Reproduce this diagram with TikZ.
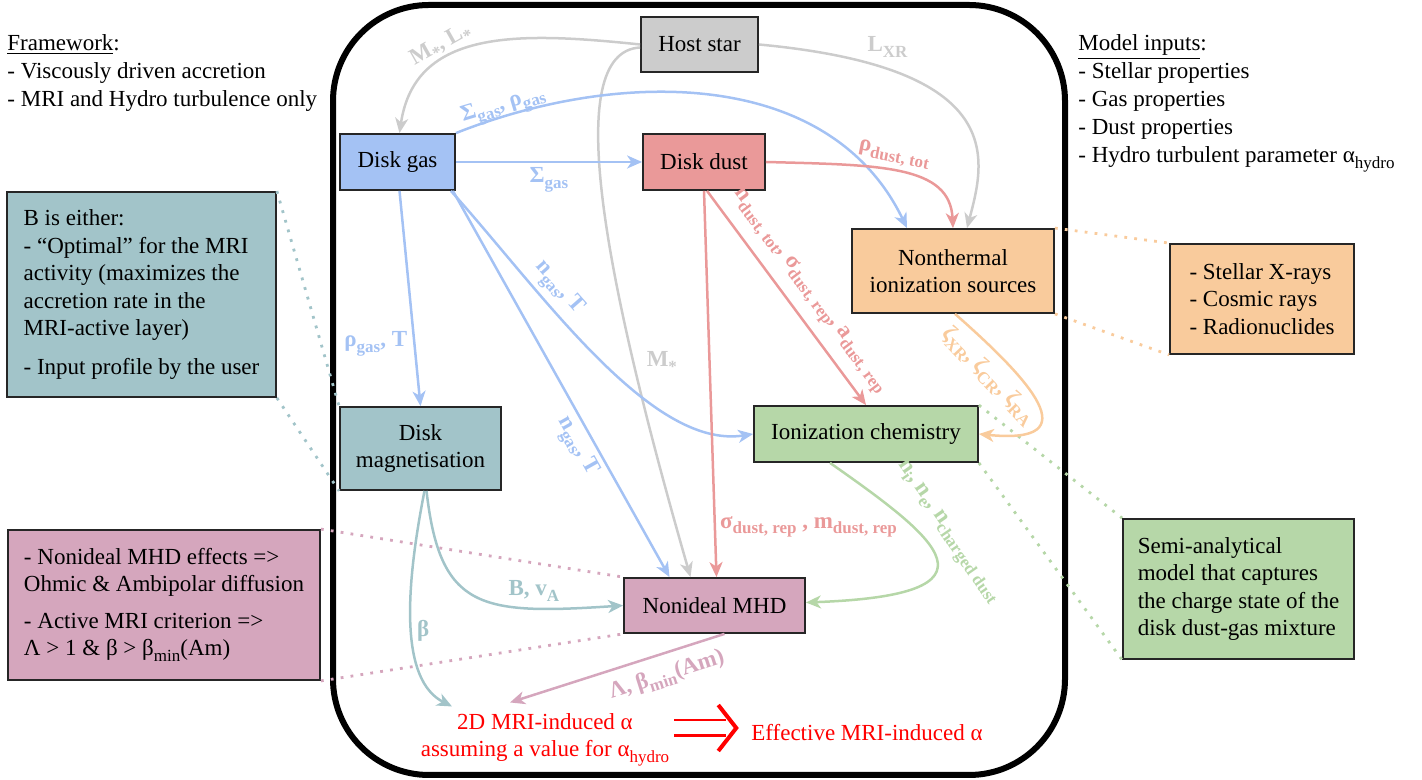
\documentclass[tikz,border=0pt]{standalone}
\usepackage{fontspec}
\setmainfont{Liberation Serif}
\usetikzlibrary{arrows.meta, calc}
\definecolor{stargray}{HTML}{CCCCCC}
\definecolor{gasblue}{HTML}{A4C2F4}
\definecolor{dustred}{HTML}{EA9999}
\definecolor{srcorange}{HTML}{F9CB9C}
\definecolor{chemgreen}{HTML}{B6D7A8}
\definecolor{magteal}{HTML}{A2C4C9}
\definecolor{mhdpink}{HTML}{D5A6BD}
\newcommand{\lo}[1]{\raisebox{-0.55ex}{\fontsize{8.5}{10}\selectfont #1}}

\begin{document}
\begin{tikzpicture}[x=0.5pt, y=0.5pt,
  every node/.style={font=\fontsize{11.5}{13.75}\selectfont},
  box/.style={draw=black!85, line width=0.9pt, inner sep=3pt, align=center},
  flow/.style={line width=1.25pt, -{Stealth[length=7.5pt, width=6.5pt, inset=2.2pt]}},
  lbl/.style={font=\fontsize{11.5}{13.75}\selectfont\bfseries, inner sep=2pt},
  notelink/.style={line width=1.4pt, dash pattern=on 1.4pt off 3.6pt}]
\useasboundingbox (0,0) rectangle (1422,780);
% Model frame
\draw[line width=3pt, rounded corners=48pt] (333,5) rectangle (1065,775);
% Blocks
\node[box, fill=stargray, minimum width=58.5pt, minimum height=27.5pt] (star) at (699.5,735.5) {Host star};
\node[box, fill=gasblue, minimum width=57.5pt, minimum height=28pt] (gas) at (397.5,618) {Disk gas};
\node[box, fill=dustred, minimum width=61pt, minimum height=28pt] (dust) at (704,618) {Disk dust};
\node[box, fill=srcorange, minimum width=101pt, minimum height=42pt] (nonth) at (953,509) {Nonthermal\\ionization sources};
\node[box, fill=chemgreen, minimum width=112pt, minimum height=28pt] (ionch) at (866,346) {Ionization chemistry};
\node[box, fill=magteal, minimum width=80.5pt, minimum height=41.5pt] (mag) at (420.5,331.5) {Disk\\magnetisation};
\node[box, fill=mhdpink, minimum width=90.5pt, minimum height=27.5pt] (mhd) at (714.5,174.5) {Nonideal MHD};
% Outputs
\node[text=red, align=center] (alpha2d) at (545,40) {2D MRI-induced α\\assuming a value for α\lo{hydro}};
\node[text=red] (eff) at (867,47) {Effective MRI-induced α};
\coordinate (imptip) at ($(eff.west)+(-8,5)$);
\draw[red, line width=1.3pt, double, double distance=6.5pt] ($(alpha2d.east |- imptip)+(-2,0)$) -- ($(imptip)+(-10,0)$);
\draw[red, line width=2pt] ($(imptip)+(-18,23)$) -- (imptip) -- ($(imptip)+(-18,-23)$);
% Side texts
\node[anchor=north west, align=left, inner sep=0pt, font=\fontsize{11.5}{14}\selectfont] (frame) at (7,746) {\underline{Framework}:\\- Viscously driven accretion\\- MRI and Hydro turbulence only};
\node[anchor=north west, align=left, inner sep=0pt, font=\fontsize{11.5}{14}\selectfont] (inputs) at (1078,746) {\underline{Model inputs}:\\- Stellar properties\\- Gas properties\\- Dust properties\\- Hydro turbulent parameter α\lo{hydro}};
% Notes
\node[box, fill=magteal, align=left, minimum width=134.5pt, minimum height=102.5pt] (magnote) at (141.5,485.5) {B is either:\\- “Optimal” for the MRI\\activity (maximizes the\\accretion rate in the\\MRI-active layer)\\[5.5pt]- Input profile by the user};
\node[box, fill=mhdpink, align=left, minimum width=156pt, minimum height=75pt] (mhdnote) at (164,175) {- Nonideal MHD effects =>\\Ohmic \& Ambipolar diffusion\\[4.5pt]- Active MRI criterion =>\\Λ > 1 \& β > β\lo{min}(Am)};
\node[box, fill=srcorange, align=left, minimum width=92pt, minimum height=55pt] (srcnote) at (1262,481) {- Stellar X-rays\\- Cosmic rays\\- Radionuclides};
\node[box, fill=chemgreen, align=left, minimum width=115.5pt, minimum height=70pt] (chemnote) at (1238.5,191) {Semi-analytical\\model that captures\\the charge state of the\\disk dust-gas mixture};
% Note links
\draw[notelink, magteal] (magnote.north east) -- (mag.north west);
\draw[notelink, magteal] (magnote.south east) -- (mag.south west);
\draw[notelink, mhdpink] (mhdnote.north east) -- (mhd.north west);
\draw[notelink, mhdpink] (mhdnote.south east) -- (mhd.south west);
\draw[notelink, srcorange] (nonth.north east) -- (srcnote.north west);
\draw[notelink, srcorange] (nonth.south east) -- (srcnote.south west);
\draw[notelink, chemgreen] (ionch.north east) -- (chemnote.north west);
\draw[notelink, chemgreen] (ionch.south east) -- (chemnote.south west);
% Host star
\draw[flow, stargray] (star.west) .. controls (520,748) and (415,752) .. ($(gas.north)+(2,0)$) node[lbl, pos=0.64, sloped, above=-1pt] {M\lo{*}, L\lo{*}};
\draw[flow, stargray] ($(star.west)+(0,-3)$) .. controls (560,728) and (605,500) .. ($(mhd.north)+(-24,0)$) node[lbl, pos=0.74, right=4pt] {M\lo{*}};
\draw[flow, stargray] (star.east) .. controls (1010,712) and (985,620) .. ($(nonth.north)+(14,0)$) node[lbl, pos=0.22, above=3pt] {L\lo{XR}};
% Disk gas
\draw[flow, gasblue] (gas.east) -- (dust.west) node[lbl, midway, below] {Σ\lo{gas}};
\draw[flow, gasblue] (gas.north east) .. controls (620,712) and (830,712) .. ($(nonth.north)+(-46,0)$) node[lbl, pos=0.1, sloped, above=-4pt] {Σ\lo{gas}, ρ\lo{gas}};
\draw[flow, gasblue] ($(gas.south)+(2,0)$) -- (mag.north) node[lbl, pos=0.71, left=1pt] {ρ\lo{gas}, T};
\draw[flow, gasblue] ($(gas.south east)+(-3,0)$) -- ($(mhd.north)+(-45,0)$) node[lbl, pos=0.64, sloped, below] {n\lo{gas}, T};
\draw[flow, gasblue] ($(gas.south east)+(-5,0)$) .. controls (540,490) and (650,330) .. (ionch.west) node[lbl, pos=0.33, sloped, above] {n\lo{gas}, T};
% Disk dust
\draw[flow, dustred] (dust.east) .. controls (880,615) and (950,615) .. (nonth.north) node[lbl, pos=0.45, sloped, above] {ρ\lo{dust, tot}};
\draw[flow, dustred] (dust.south) -- ($(mhd.north)+(2,0)$) node[lbl, pos=0.87, right] {σ\lo{dust, rep} , m\lo{dust, rep}};
\draw[flow, dustred] ($(dust.south)+(3,0)$) -- (ionch.north) node[lbl, pos=0.53, sloped, above=3pt] {n\lo{dust, tot}, σ\lo{dust, rep}, a\lo{dust, rep}};
% Ionization
\draw[flow, srcorange] ($(nonth.south)+(2,0)$) .. controls (1030,400) and (1090,335) .. (ionch.east) node[lbl, pos=0.24, sloped, below=3pt] {ζ\lo{XR}, ζ\lo{CR}, ζ\lo{RA}};
\draw[flow, chemgreen] ($(ionch.south)+(-36,0)$) .. controls (940,240) and (1010,185) .. ($(mhd.east)+(0,3)$) node[lbl, pos=0.41, sloped, above=3pt] {n\lo{i}, n\lo{e}, n\lo{charged dust}};
% Magnetisation and MHD
\draw[flow, magteal] ($(mag.south)+(6,0)$) .. controls (440,170) and (480,165) .. (mhd.west) node[lbl, pos=0.75, above=1pt] {B, v\lo{A}};
\draw[flow, magteal] ($(mag.south)+(4,0)$) .. controls (405,190) and (400,100) .. ($(alpha2d.north)+(-93,0)$) node[lbl, pos=0.52, right=0pt] {β};
\draw[flow, mhdpink] ($(mhd.south)+(10,0)$) -- ($(alpha2d.north)+(-35,4)$) node[lbl, pos=0.3, sloped, below=3pt] {Λ, β\lo{min}(Am)};
\end{tikzpicture}
\end{document}
